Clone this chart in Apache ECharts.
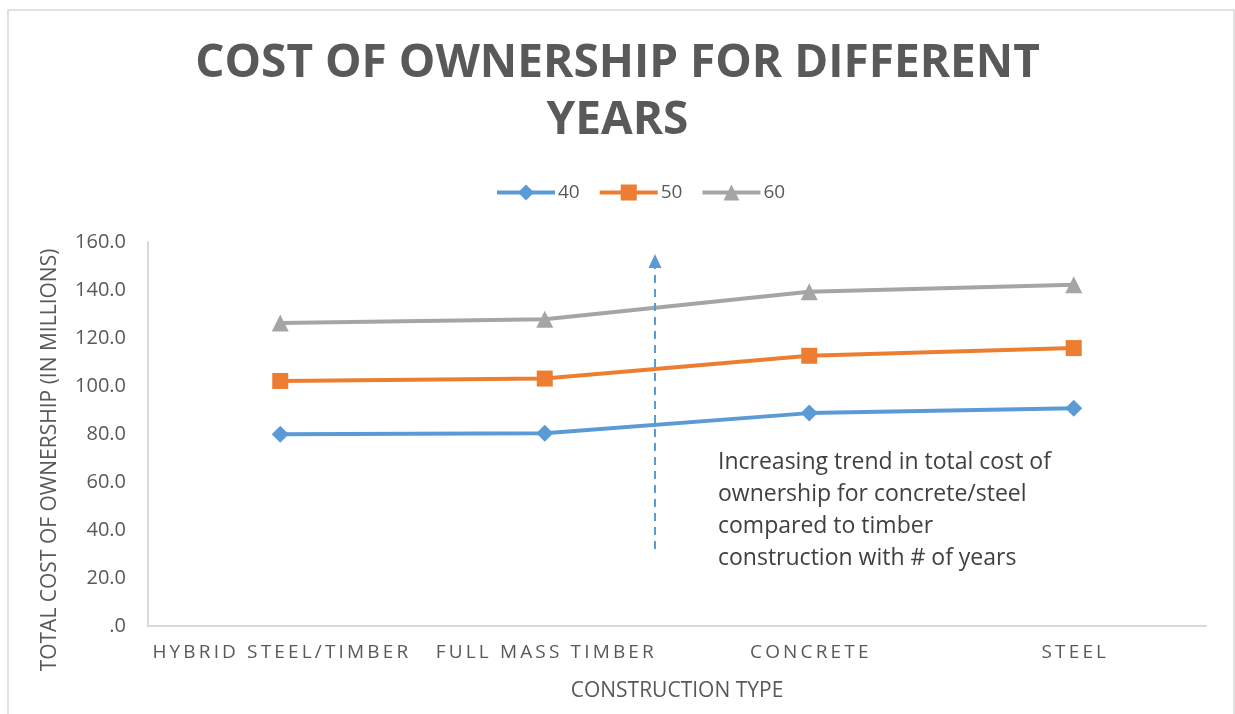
<!DOCTYPE html>
<html>
<head>
<meta charset="utf-8">
<title>Cost of Ownership for Different Years</title>
<script src="https://cdn.jsdelivr.net/npm/echarts@6/dist/echarts.min.js"></script>
<style>
  html, body { margin: 0; padding: 0; background: #ffffff; }
  #chart { width: 1235px; height: 714px; }
</style>
</head>
<body>
<div id="chart"></div>
<script>
// Construction types along the x axis
const categories = ['HYBRID STEEL/TIMBER', 'FULL MASS TIMBER', 'CONCRETE', 'STEEL'];

// Total cost of ownership (in millions) per ownership horizon
const seriesNames = ['40', '50', '60'];
const cost40 = [79.9, 80.3, 88.7, 90.7];
const cost50 = [102.1, 103.1, 112.6, 115.8];
const cost60 = [126.2, 127.8, 139.3, 142.2];

// Value axis range
const yMin = 0;
const yMax = 160;
const yStep = 20;

const noteLines = [
  'Increasing trend in total cost of',
  'ownership for concrete/steel',
  'compared to timber',
  'construction with # of years'
];

const FONT = '"Open Sans", "Liberation Sans", sans-serif';
const TEXT = '#595959';
const AXIS = '#D9D9D9';
const BLUE = '#5B9BD5';
const ORANGE = '#ED7D31';
const GRAY = '#A5A5A5';

// spread letters apart for the tracked category labels
const spaced = s => s.split('').join('\u2009');

const chart = echarts.init(document.getElementById('chart'), null, { renderer: 'canvas' });

function lineSeries(name, data, color, symbol, size) {
  return {
    name: name,
    type: 'line',
    data: data,
    symbol: symbol,
    symbolSize: size,
    showSymbol: true,
    lineStyle: { color: color, width: 4 },
    itemStyle: { color: color },
    emphasis: { disabled: true },
    z: 3
  };
}

const option = {
  backgroundColor: '#ffffff',
  animation: false,
  textStyle: { fontFamily: FONT },
  title: {
    text: 'COST OF OWNERSHIP FOR DIFFERENT\nYEARS',
    left: 'center',
    top: 30,
    textStyle: {
      fontFamily: FONT,
      fontSize: 46,
      fontWeight: 'bold',
      color: TEXT,
      lineHeight: 57
    }
  },
  legend: {
    top: 178,
    left: 490,
    itemWidth: 58,
    itemHeight: 20,
    itemGap: 18,
    data: seriesNames,
    lineStyle: { width: 4 },
    textStyle: { fontFamily: FONT, fontSize: 19, color: TEXT, padding: [0, 0, 0, -2] }
  },
  grid: { left: 148, right: 29, top: 242, bottom: 88, containLabel: false },
  xAxis: {
    type: 'category',
    data: categories,
    boundaryGap: true,
    axisLine: { show: true, lineStyle: { color: AXIS, width: 2 } },
    axisTick: { show: false },
    axisLabel: {
      margin: 17,
      fontFamily: FONT,
      fontSize: 19,
      color: TEXT,
      interval: 0,
      formatter: spaced
    },
    splitLine: { show: false },
    name: 'CONSTRUCTION TYPE',
    nameLocation: 'middle',
    nameGap: 55,
    nameTextStyle: { fontFamily: FONT, fontSize: 21, color: TEXT }
  },
  yAxis: {
    type: 'value',
    min: yMin,
    max: yMax,
    interval: yStep,
    axisLine: { show: true, lineStyle: { color: AXIS, width: 2 } },
    axisTick: { show: false },
    splitLine: { show: false },
    axisLabel: {
      margin: 22,
      fontFamily: FONT,
      fontSize: 20,
      color: TEXT,
      formatter: v => (v === 0 ? '.0' : v.toFixed(1))
    },
    name: 'TOTAL COST OF OWNERSHIP (IN MILLIONS)',
    nameLocation: 'middle',
    nameGap: 87,
    nameTextStyle: { fontFamily: FONT, fontSize: 21, color: TEXT, padding: [0, 52, 0, 0] }
  },
  series: [
    lineSeries(seriesNames[0], cost40, BLUE, 'diamond', 17),
    lineSeries(seriesNames[1], cost50, ORANGE, 'rect', 16),
    lineSeries(seriesNames[2], cost60, GRAY, 'triangle', 17)
  ],
  graphic: [
    {
      // outer chart frame
      type: 'rect',
      shape: { x: 8, y: 10, width: 1226, height: 720 },
      style: { fill: 'none', stroke: AXIS, lineWidth: 1.5 },
      silent: true,
      z: 0
    },
    {
      // dashed trend arrow shaft
      type: 'line',
      shape: { x1: 655, y1: 549, x2: 655, y2: 266 },
      style: { stroke: BLUE, lineWidth: 2, lineDash: [8, 6] },
      silent: true,
      z: 5
    },
    {
      // arrow head
      type: 'polygon',
      shape: { points: [[655, 254], [648.5, 268], [661.5, 268]] },
      style: { fill: BLUE },
      silent: true,
      z: 5
    },
    {
      type: 'text',
      left: 718,
      top: 446,
      style: {
        text: noteLines.join('\n'),
        font: '23px ' + FONT,
        lineHeight: 32,
        fill: '#404040'
      },
      silent: true,
      z: 5
    }
  ]
};

chart.setOption(option);
</script>
</body>
</html>
